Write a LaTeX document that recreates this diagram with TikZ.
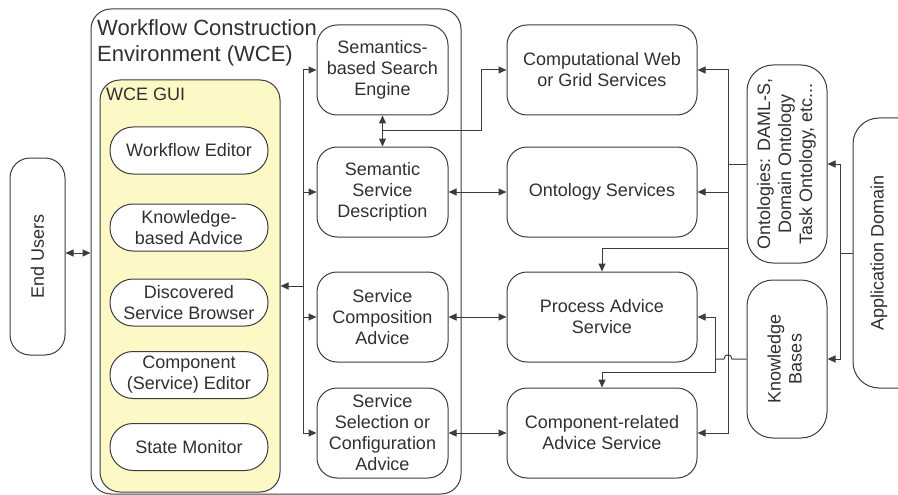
\documentclass[tikz,border=0pt]{standalone}
\usepackage{fontspec}
\setmainfont{Liberation Sans}
\usetikzlibrary{arrows.meta,positioning,calc}

\definecolor{edgegray}{HTML}{3C3C3C}
\definecolor{inkgray}{HTML}{303030}
\definecolor{guiyellow}{HTML}{FCF9C6}

\newcommand{\rottext}[1]{\rotatebox{90}{\begin{tabular}{@{}c@{}}#1\end{tabular}}}

\begin{document}
\begin{tikzpicture}[
    x=1pt,y=-1pt,
    every node/.style={text=inkgray},
    box/.style={draw=edgegray,line width=1pt,rounded corners=20pt,
                align=center,inner sep=0pt,font=\fontsize{18}{21}\selectfont},
    midbox/.style={box,minimum width=131pt,minimum height=90pt},
    svcbox/.style={box,minimum width=190pt,minimum height=90pt},
    pill/.style={box,fill=white,rounded corners=23pt,
                 minimum width=158pt,minimum height=47pt},
    sidebox/.style={box,rounded corners=26pt,minimum width=80pt},
    tip/.tip={Triangle[length=8pt,width=7pt]},
    link/.style={line width=1pt,draw=edgegray,-tip},
    dlink/.style={link,tip-tip},
    wire/.style={line width=1pt,draw=edgegray}
  ]
    \useasboundingbox (0,0) rectangle (898,495);
    \clip (0,0) rectangle (898,495);

    % construction environment and its GUI
    \node[box,minimum width=370pt,minimum height=485pt] (wce) at (276,251.5) {};
    \node[anchor=north west,align=left,inner sep=0pt,
          font=\fontsize{22}{26}\selectfont] (wcetitle) at (97,19)
          {Workflow Construction\\Environment (WCE)};
    \node[box,fill=guiyellow,minimum width=180pt,minimum height=412pt] (gui) at (190,286) {};
    \node[anchor=north west,inner sep=0pt,font=\fontsize{18}{21}\selectfont] (guititle)
          at (106,88) {WCE GUI};

    \node[pill] (editor)  at (189,150.5) {Workflow Editor};
    \node[pill] (advice)  at (189,227.5) {Knowledge-\\based Advice};
    \node[pill] (browser) at (189,302.5) {Discovered\\Service Browser};
    \node[pill] (compedit) at (189,375) {Component\\(Service) Editor};
    \node[pill] (monitor) at (189,447) {State Monitor};

    \node[box,minimum width=55pt,minimum height=197pt] (users) at (37.5,256.5)
          {\rotatebox{90}{End Users}};

    % middle column
    \node[midbox] (engine)  at (382.5,70)  {Semantics-\\based Search\\Engine};
    \node[midbox] (desc)    at (382.5,192) {Semantic\\Service\\Description};
    \node[midbox] (compose) at (382.5,317) {Service\\Composition\\Advice};
    \node[midbox] (select)  at (382.5,433) {Service\\Selection or\\Configuration\\Advice};

    % service column
    \node[svcbox] (grid)   at (602,70)  {Computational Web\\or Grid Services};
    \node[svcbox] (ontsvc) at (602,192) {Ontology Services};
    \node[svcbox] (proc)   at (602,317) {Process Advice\\Service};
    \node[svcbox] (cras)   at (602,433) {Component-related\\Advice Service};

    % knowledge sources
    \node[sidebox,minimum height=198pt] (onto) at (787,164)
          {\rottext{Ontologies: DAML-S,\\Domain Ontology\\Task Ontology, etc...}};
    \node[sidebox,minimum height=158pt] (kb) at (787,359)
          {\rottext{Knowledge\\Bases}};
    % the domain box runs off the right edge
    \node[box,rounded corners=26pt,minimum width=80pt,minimum height=270pt] (app)
          at (893,253) {};
    \node[font=\fontsize{18}{21}\selectfont] (applabel) at (879,253)
          {\rotatebox{90}{Application Domain}};

    % junctions
    \coordinate (lbus) at (303,286);
    \coordinate (rbus) at (728,164);
    \coordinate (kbus) at (715,359);
    \coordinate (abus) at (840,253);
    \coordinate (jct)  at ($(engine.south)!0.5!(desc.north)$);

    % WCE wiring
    \draw[dlink] (users.east |- 0,253) -- (wce.west |- 0,253);
    \draw[link] (lbus) -- (lbus -| gui.east);
    \draw[link] (lbus) |- (engine.west);
    \draw[link] (lbus) |- (desc.west);
    \draw[link] (lbus) |- (compose.west);
    \draw[link] (lbus) |- (select.west);
    \draw[dlink] (engine.south) -- (desc.north);
    \draw[link] (jct) -| ([xshift=-25pt]grid.west) -- (grid.west);
    \draw[dlink] (desc.east) -- (ontsvc.west);
    \draw[dlink] (compose.east) -- (proc.west);
    \draw[dlink] (select.east) -- (cras.west);

    % ontology feed
    \draw[wire] (onto.west |- rbus) -- (rbus);
    \draw[link] (rbus) |- (grid.east);
    \draw[link] (rbus) |- (ontsvc.east);
    \draw[link] (rbus) |- (cras.east);
    \draw[link] (rbus) |- ([yshift=23pt]proc.north) -- (proc.north);

    % knowledge base feed, hopping over the ontology line
    \draw[wire] (kb.west |- kbus) -- (732,359) .. controls (732,353.5) and (724,353.5) .. (724,359) -- (kbus);
    \draw[link] (kbus) |- (proc.east);
    \draw[link] (kbus) |- ([yshift=15pt]cras.north) -- (cras.north);

    % application domain
    \draw[wire] (app.west |- abus) -- (abus);
    \draw[link] (abus) |- (onto.east);
    \draw[link] (abus) |- (kb.east);
  \end{tikzpicture}
\end{document}
